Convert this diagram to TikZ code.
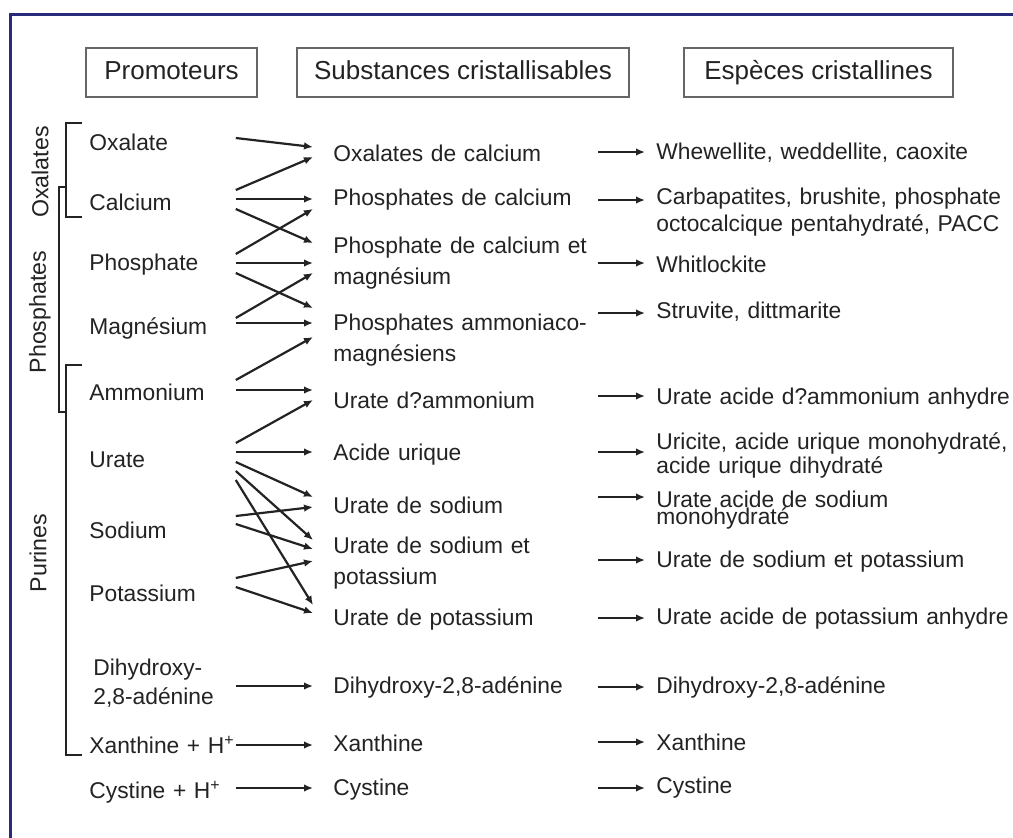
\documentclass[tikz,border=0pt]{standalone}
\usepackage{fontspec}
\setmainfont{Liberation Sans}
\usetikzlibrary{arrows.meta, calc, positioning}
\definecolor{framenavy}{RGB}{42, 42, 122}
\definecolor{inkgray}{RGB}{35, 35, 35}
\newcommand{\tightlines}{\fontsize{11.4}{8.5}\selectfont\lineskiplimit=-20pt\relax}

\begin{document}
\begin{tikzpicture}[
  x=0.5pt, y=-0.5pt,
  header/.style  = {rectangle, draw=black!60, line width=0.75pt,
                    minimum height=24.5pt, inner sep=0pt, text=inkgray,
                    text height=9.6pt, text depth=2.6pt,
                    font=\fontsize{13}{15}\selectfont},
  promo/.style   = {anchor=west, inner sep=0pt, text width=73pt, align=left,
                    text=inkgray, font=\fontsize{11.4}{14.5}\selectfont},
  subst/.style   = {anchor=west, inner sep=0pt, text width=132pt, align=left,
                    text=inkgray, font=\fontsize{11.4}{15.5}\selectfont},
  espece/.style  = {anchor=west, inner sep=0pt, text width=180pt, align=left,
                    text=inkgray, font=\fontsize{11.4}{12}\selectfont},
  family/.style  = {rotate=90, inner sep=0pt, text=inkgray,
                    font=\fontsize{11.6}{14}\selectfont},
  arr/.style     = {-{Latex[length=4.5pt,width=3.8pt]}, line width=1.1pt, draw=inkgray},
  brace/.style   = {line width=1pt, draw=inkgray},
  frame/.style   = {line width=1.6pt, draw=framenavy},
]
\useasboundingbox (0,0) rectangle (1013,837);
\fill[white] (-10,-10) rectangle (1025,850);
\draw[frame] (10.5,850) -- (10.5,14.5) -- (1025,14.5);

%% Column headers
\node[header, minimum width=85.5pt]  (hdrPromo) at (171.5,72.5) {Promoteurs};
\node[header, minimum width=166pt]   (hdrSubst) at (463,72.5)   {Substances cristallisables};
\node[header, minimum width=134.5pt] (hdrEsp)   at (818.5,72.5) {Espèces cristallines};

%% Promoteurs
\node[promo] (oxa) at (89,142) {Oxalate};
\node[promo] (cal) at (89,202) {Calcium};
\node[promo] (pho) at (89,265) {Phosphate};
\node[promo] (mag) at (89,328) {Magnésium};
\node[promo] (amm) at (89,392) {Ammonium};
\node[promo] (ura) at (89,460) {Urate};
\node[promo] (sod) at (89,530) {Sodium};
\node[promo] (pot) at (89,593) {Potassium};
\node[promo, text width=71pt] (dih) at (93,683) {Dihydroxy-\\2,8-adénine};
\node[promo] (xan) at (89,745) {\mbox{Xanthine + H\textsuperscript{+}}};
\node[promo] (cys) at (89,792) {\mbox{Cystine + H\textsuperscript{+}}};

%% Families
\node[family] (famOxa) at (40,172) {Oxalates};
\node[family] (famPho) at (40,312) {Phosphates};
\node[family] (famPur) at (38,553) {Purines};
\draw[brace] (82,123) -- (66,123) -- (66,217) -- (82,217);
\draw[brace] (66,187) -- (59,187) -- (59,412) -- (66,412);
\draw[brace] (82,365) -- (66,365) -- (66,755) -- (82,755);

%% Substances cristallisables
\node[subst] (oxc) at (333,153) {Oxalates de calcium};
\node[subst] (phc) at (333,200) {Phosphates de calcium};
\node[subst] (pcm) at (333,263) {Phosphate de calcium et\\magnésium};
\node[subst] (pam) at (333,340) {Phosphates ammoniaco-\\magnésiens};
\node[subst] (uam) at (333,400) {Urate d?ammonium};
\node[subst] (acu) at (333,455) {Acide urique};
\node[subst] (uso) at (333,505) {Urate de sodium};
\node[subst] (usp) at (333,563) {Urate de sodium et\\potassium};
\node[subst] (upo) at (333,620) {Urate de potassium};
\node[subst] (dhm) at (333,687) {Dihydroxy-2,8-adénine};
\node[subst] (xam) at (333,743) {Xanthine};
\node[subst] (cym) at (333,790) {Cystine};

%% Especes cristallines
\node[espece] (whe) at (656,153) {Whewellite, weddellite, caoxite};
\node[espece, font=\fontsize{11.4}{13.5}\selectfont] (car) at (656,212)
  {Carbapatites, brushite, phosphate\\octocalcique pentahydraté, PACC};
\node[espece] (whi) at (656,264) {Whitlockite};
\node[espece] (str) at (656,312) {Struvite, dittmarite};
\node[espece] (uaa) at (656,399) {Urate acide d?ammonium anhydre};
\node[espece] (uri) at (656,455) {Uricite, acide urique monohydraté,\\acide urique dihydraté};
\node[espece, font=\tightlines] (uas) at (656,510) {Urate acide de sodium\\monohydraté};
\node[espece] (usk) at (656,562) {Urate de sodium et potassium};
\node[espece] (uak) at (656,619) {Urate acide de potassium anhydre};
\node[espece] (dhc) at (656,687) {Dihydroxy-2,8-adénine};
\node[espece] (xac) at (656,742) {Xanthine};
\node[espece] (cyc) at (656,788) {Cystine};

%% Promoteurs -> substances
\foreach \a/\da/\b/\db in {oxa/-4/oxc/-6, cal/-12/oxc/4, cal/-3/phc/-1, cal/7/pcm/-20,
    pho/-11/phc/9, pho/-2/pcm/0, pho/8/pam/-32, mag/-10/pcm/10, mag/-5/pam/-17,
    amm/-12/pam/-3, amm/-2/uam/-10, ura/-17/uam/0, ura/-8/acu/-3, ura/2/uso/-8,
    ura/11/usp/-23, ura/20/upo/-15, sod/-14/uso/2, sod/-6/usp/-14,
    pot/-15/usp/-2, pot/-6/upo/-7, dih/3/dhm/-1, xan/0/xam/2, cys/-4/cym/-2}
  \draw[arr] ($(\a.east)+(0,\da)$) -- ($(\b.west)+(-20,\db)$);

%% Substances -> especes
\foreach \a/\da/\b/\db in {oxc/-1/whe/-1, phc/0/car/-12, pcm/0/whi/-1, pam/-27/str/1,
    uam/-4/uaa/-3, acu/-3/uri/-3, uso/-8/uas/-13, usp/-3/usk/-2, upo/-2/uak/-1,
    dhm/0/dhc/0, xam/-1/xac/0, cym/-2/cyc/0}
  \draw[arr] ($(\a.east)+(0,\da)$) -- ($(\b.west)+(-11,\db)$);

\end{tikzpicture}
\end{document}
